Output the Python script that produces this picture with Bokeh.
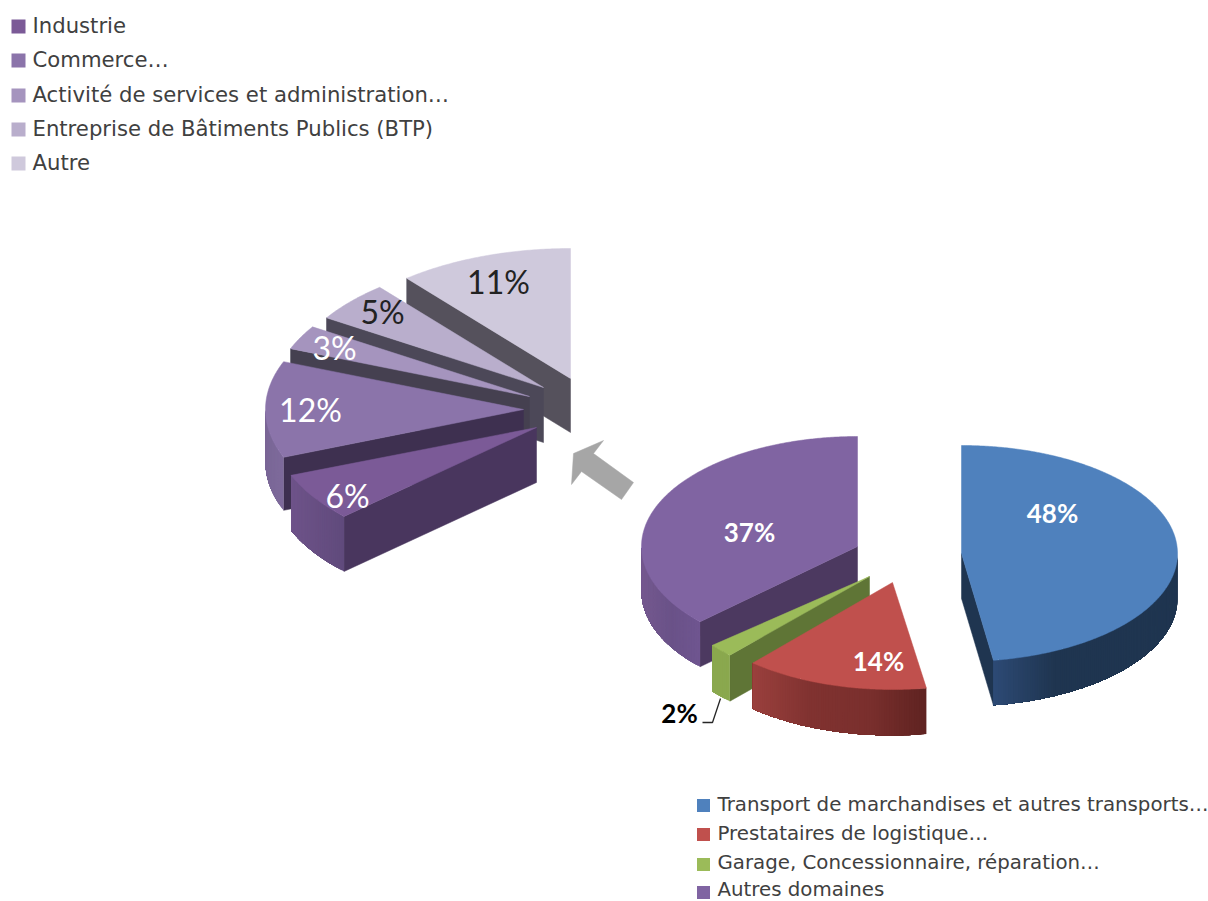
import math
from bokeh.plotting import figure
from bokeh.core.properties import value
from bokeh.embed import file_html
from bokeh.resources import INLINE

# ---- data -----------------------------------------------------------------
main_labels = ["Transport de marchandises et autres transports…", "Prestataires de logistique…",
               "Garage, Concessionnaire, réparation…", "Autres domaines"]
main_values = [48, 14, 2, 37]
main_colors = ["#4F81BD", "#C0504D", "#9BBB59", "#8064A2"]

sub_labels = ["Industrie", "Commerce…", "Activité de services et administration…",
              "Entreprise de Bâtiments Publics (BTP)", "Autre"]
sub_values = [6, 12, 3, 5, 11]
sub_colors = ["#7B5A97", "#8B74AA", "#A594BE", "#B9AECC", "#CFC9DC"]

# ---- look: centre, radii, depth, angle shift, side colours, face colour ----
main_style = [
    dict(c=(961, 553), rx=216, ry=108, d=45, shift=(0, -1.3), side=["#2D4A75", "#1F3550", "#1F3550", "#1F3550"], face="#1F3550"),
    dict(c=(892, 582), rx=212, ry=107, d=46, shift=(-2, -2), side=["#9A403D", "#803230", "#7A2F2D", "#5F2321"], face="#5F2321"),
    dict(c=(869, 576), rx=204, ry=108, d=46, shift=(0, 0), side=["#8AA84E", "#8AA84E"], face="#5F7536"),
    dict(c=(857, 546), rx=216, ry=110, d=45, shift=(0, 0), side=["#75598F", "#6A5288", "#6F5590"], face="#4C3960"),
]
sub_style = [
    dict(c=(536, 427), rx=264, ry=130, d=55, shift=(0, 0), side=["#6E5389", "#604A7C"], face="#49365E"),
    dict(c=(523, 409), rx=258, ry=130, d=53, shift=(0, 0), side=["#7A6797", "#7E6A9B"], face="#3E3050"),
    dict(c=(529, 396), rx=257, ry=130, d=55, shift=(0, 0), side=["#8A7AA0", "#8A7AA0"], face="#454050"),
    dict(c=(543, 387), rx=257, ry=130, d=55, shift=(0, 0), side=["#9A8EAA", "#9A8EAA"], face="#4C4858"),
    dict(c=(570, 378), rx=257, ry=130, d=54, shift=(0, 0), side=["#ABA5B5", "#ABA5B5"], face="#55515C"),
]
main_text = [("48%", 1052, 512, "white"), ("14%", 878, 660, "white"), ("2%", 679, 712, "black"), ("37%", 749, 531, "white")]
sub_text = [("6%", 347, 495, "white"), ("12%", 310, 409, "white"), ("3%", 334, 347, "white"),
            ("5%", 382, 311, "#222222"), ("11%", 498, 281, "#222222")]
main_legend_y = [804, 833, 862, 889]
sub_legend_y = [25, 59, 94, 128, 162]

arrow_x = [573, 603, 593, 633, 621, 581, 571]
arrow_y = [453, 440, 453, 482, 499, 471, 484]
leader_x = [720, 712, 702]
leader_y = [698, 722, 722]

# ---- page -----------------------------------------------------------------
p = figure(width=1208, height=901, x_range=(0, 1208), y_range=(901, 0),
           output_backend="svg", toolbar_location=None, min_border=0)
p.axis.visible = False
p.grid.visible = False
p.outline_line_color = None
p.background_fill_color = "white"
p.border_fill_color = "white"


def hex_rgb(h):
    return tuple(int(h[i:i + 2], 16) for i in (1, 3, 5))


def ramp(stops, t):
    if len(stops) == 1:
        return stops[0]
    pos = t * (len(stops) - 1)
    i = min(int(pos), len(stops) - 2)
    f = pos - i
    a, b = hex_rgb(stops[i]), hex_rgb(stops[i + 1])
    return "#%02X%02X%02X" % tuple(round(a[k] + (b[k] - a[k]) * f) for k in range(3))


def pt(s, deg, dy=0):
    r = math.radians(deg)
    return s["c"][0] + s["rx"] * math.sin(r), s["c"][1] - s["ry"] * math.cos(r) + dy


def slice3d(a, b, color, s):
    a += s["shift"][0]
    b += s["shift"][1]
    d = s["d"]
    # radial cut face, only where it looks towards the viewer
    edge = None
    if 180 <= a < 360:
        edge = a
    elif 0 < b < 180:
        edge = b
    if edge is not None:
        ex, ey = pt(s, edge)
        cx, cy = s["c"]
        p.patch([cx, ex, ex, cx], [cy, ey, ey + d, cy + d], fill_color=s["face"], line_color=s["face"], line_width=0.5)
    # outer wall: lower half of the rim, shaded piece by piece. Each piece
    # runs on to the far end of the wall, so that no seams show between them.
    lo, hi = max(a, 90), min(b, 270)
    if hi > lo:
        n = max(int((hi - lo) * 1.5), 2)
        ends = [pt(s, lo)[0], pt(s, hi)[0]]
        xmin, xmax = min(ends), max(ends)
        arc = [pt(s, lo + (hi - lo) * i / n) for i in range(n + 1)]
        for i in range(n):
            rest = arc[i:]
            xs = [q[0] for q in rest] + [q[0] for q in reversed(rest)]
            ys = [q[1] for q in rest] + [q[1] + d for q in reversed(rest)]
            t = ((rest[0][0] + rest[1][0]) / 2 - xmin) / max(xmax - xmin, 1)
            p.patch(xs, ys, fill_color=ramp(s["side"], t), line_color=None)
    # top surface
    n = max(int(b - a), 2) * 2
    tx, ty = [s["c"][0]], [s["c"][1]]
    for i in range(n + 1):
        x, y = pt(s, a + (b - a) * i / n)
        tx.append(x)
        ty.append(y)
    p.patch(tx, ty, fill_color=color, line_color=color, line_width=0.5)


# main pie, clockwise from twelve o'clock; the last slice closes at twelve
# (the rounded shares add up to 101)
edges = [0]
for v in main_values[:3]:
    edges.append(edges[-1] + v * 3.6)
spans = [(edges[0], edges[1]), (edges[1], edges[2]), (edges[2], edges[3]), (360 - main_values[3] * 3.6, 360)]
for i in (0, 3, 2, 1):
    slice3d(spans[i][0], spans[i][1], main_colors[i], main_style[i])

# breakdown of the "Autres domaines" slice: same angular span, back to front
sub_edges = [spans[3][0]]
for v in sub_values:
    sub_edges.append(sub_edges[-1] + v * 3.6)
for i in (4, 3, 2, 1, 0):
    slice3d(sub_edges[i], sub_edges[i + 1], sub_colors[i], sub_style[i])

p.patch(arrow_x, arrow_y, fill_color="#A6A6A6", line_color="#A6A6A6", line_width=0.5)
p.line(leader_x, leader_y, line_color="#262626", line_width=1.3)

p.text([t[1] for t in main_text], [t[2] for t in main_text], text=[t[0] for t in main_text],
       text_color=[t[3] for t in main_text], text_font=value("Lato"), text_font_style="bold",
       text_font_size="26px", text_align="center", text_baseline="middle")
p.text([t[1] for t in sub_text], [t[2] for t in sub_text], text=[t[0] for t in sub_text],
       text_color=[t[3] for t in sub_text], text_font=value("Lato"),
       text_font_size="32px", text_align="center", text_baseline="middle")

# legends
p.rect([18] * 5, [y + 1 for y in sub_legend_y], width=14, height=14, fill_color=sub_colors, line_color=None)
p.text([32] * 5, sub_legend_y, text=sub_labels, text_color="#404040", text_font=value("DejaVu Sans"),
       text_font_size="21.2px", text_align="left", text_baseline="middle")
p.rect([703] * 4, [805, 834, 864, 892], width=13, height=13, fill_color=main_colors, line_color=None)
p.text([717] * 4, main_legend_y, text=main_labels, text_color="#404040", text_font=value("DejaVu Sans"),
       text_font_size="19.8px", text_align="left", text_baseline="middle")

open("out.html", "w").write(file_html(p, INLINE))
